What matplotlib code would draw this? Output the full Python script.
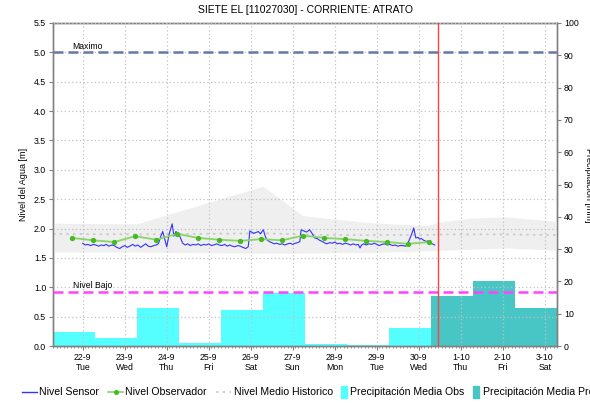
import matplotlib
matplotlib.use("Agg")
import matplotlib.pyplot as plt
from matplotlib.patches import Rectangle
from matplotlib.lines import Line2D
import numpy as np

plt.rcParams['font.family'] = ['Liberation Sans', 'DejaVu Sans']

# ---------------- data (x in days from 22-9 00:00) ----------------
tick_days = list(range(12))
tick_labels = ["22-9\nTue", "23-9\nWed", "24-9\nThu", "25-9\nFri", "26-9\nSat", "27-9\nSun",
               "28-9\nMon", "29-9\nTue", "30-9\nWed", "1-10\nThu", "2-10\nFri", "3-10\nSat"]

sensor_pts = [
    (0.00, 1.75), (0.06, 1.72), (0.12, 1.73), (0.19, 1.71), (0.25, 1.73), (0.31, 1.72),
    (0.38, 1.70), (0.44, 1.72), (0.50, 1.71), (0.56, 1.73), (0.62, 1.70), (0.69, 1.72),
    (0.75, 1.71), (0.81, 1.68), (0.88, 1.66), (0.94, 1.69), (1.00, 1.71), (1.06, 1.68),
    (1.12, 1.70), (1.19, 1.73), (1.25, 1.70), (1.31, 1.72), (1.38, 1.68), (1.44, 1.71),
    (1.50, 1.74), (1.56, 1.70), (1.62, 1.69), (1.69, 1.71), (1.75, 1.72), (1.80, 1.74),
    (1.86, 1.87), (1.905, 1.95), (1.96, 1.80), (2.00, 1.69), (2.06, 1.91), (2.13, 2.08),
    (2.17, 1.87), (2.22, 1.95), (2.31, 1.87), (2.38, 1.75), (2.44, 1.72), (2.50, 1.74),
    (2.56, 1.71), (2.62, 1.73), (2.69, 1.72), (2.75, 1.74), (2.81, 1.71), (2.88, 1.73),
    (2.94, 1.72), (3.00, 1.74), (3.06, 1.71), (3.12, 1.72), (3.19, 1.74), (3.25, 1.72),
    (3.31, 1.71), (3.38, 1.73), (3.44, 1.70), (3.50, 1.72), (3.56, 1.70), (3.62, 1.69),
    (3.69, 1.71), (3.75, 1.70), (3.81, 1.68), (3.88, 1.66), (3.94, 1.69), (3.98, 1.96),
    (4.06, 1.92), (4.12, 1.93), (4.18, 1.95), (4.23, 1.91), (4.30, 1.98), (4.34, 1.88),
    (4.38, 1.81), (4.44, 1.78), (4.50, 1.76), (4.56, 1.74), (4.62, 1.75), (4.69, 1.73),
    (4.75, 1.74), (4.81, 1.72), (4.88, 1.74), (4.94, 1.75), (5.00, 1.73), (5.06, 1.75),
    (5.12, 1.76), (5.17, 1.78), (5.20, 1.98), (5.26, 1.96), (5.33, 1.94), (5.40, 1.98),
    (5.45, 1.93), (5.48, 1.89), (5.52, 1.84), (5.58, 1.83), (5.64, 1.80), (5.70, 1.78),
    (5.75, 1.76), (5.81, 1.74), (5.88, 1.76), (5.94, 1.75), (6.00, 1.77), (6.06, 1.74),
    (6.12, 1.75), (6.19, 1.73), (6.25, 1.75), (6.31, 1.74), (6.38, 1.72), (6.44, 1.74),
    (6.50, 1.72), (6.56, 1.73), (6.60, 1.67), (6.64, 1.72), (6.69, 1.74), (6.75, 1.72),
    (6.81, 1.74), (6.88, 1.73), (6.94, 1.75), (7.00, 1.73), (7.06, 1.71), (7.12, 1.73),
    (7.19, 1.74), (7.25, 1.72), (7.31, 1.73), (7.38, 1.71), (7.44, 1.72), (7.50, 1.70),
    (7.56, 1.71), (7.62, 1.71), (7.69, 1.70), (7.74, 1.75), (7.83, 1.90), (7.88, 2.01),
    (7.93, 1.84), (7.98, 1.85), (8.02, 1.82), (8.06, 1.83), (8.12, 1.80), (8.18, 1.78),
    (8.22, 1.79), (8.26, 1.75), (8.32, 1.74), (8.38, 1.72),
]
sensor_t = [p[0] for p in sensor_pts]
sensor_v = [p[1] for p in sensor_pts]

obs_t = [-0.25 + 0.5 * k for k in range(18)]
obs_v = [1.84, 1.80, 1.77, 1.87, 1.81, 1.91, 1.84, 1.81, 1.79, 1.82, 1.80, 1.88,
         1.84, 1.82, 1.79, 1.77, 1.74, 1.77]

band_t = [-0.708, 1.29, 4.29, 5.24, 5.88, 6.83, 8.19, 8.57, 9.3, 10.1, 11.29]
band_hi = [2.09, 2.08, 2.72, 2.22, 2.17, 2.10, 2.05, 2.12, 2.18, 2.20, 2.12]
band_lo = [1.60, 1.60, 1.58, 1.58, 1.59, 1.59, 1.62, 1.63, 1.65, 1.67, 1.63]
mean_hist = [1.91, 1.90, 1.92, 1.90, 1.89, 1.89, 1.89, 1.90, 1.90, 1.90, 1.89]

obs_bar_start = [-0.708, 0.292, 1.292, 2.292, 3.292, 4.292, 5.292, 6.292, 7.292]
obs_bar_mm = [4.4, 2.6, 11.9, 0.8, 11.1, 16.3, 0.7, 0.3, 5.7]
pro_bar_start = [8.292, 9.292, 10.292]
pro_bar_mm = [15.6, 20.2, 11.7]

nivel_maximo = 5.0
nivel_bajo = 0.92
now_day = 8.45

legend_labels = ['Nivel Sensor', 'Nivel Observador', 'Nivel Medio Historico',
                 'Precipitación Media Obs', 'Precipitación Media Pro']

# ---------------- figure ----------------
W, H = 590, 405
fig = plt.figure(figsize=(5.9, 4.05), dpi=100)
ax = fig.add_axes([53/W, 1-346/H, (557-53)/W, (346-23)/H])
ax2 = ax.twinx()
ax.set_zorder(ax2.get_zorder() + 1)
ax.patch.set_visible(False)

col_sensor = '#3333FF'
col_obsline = '#88D466'
col_obsmark = '#44BB22'
col_hist = '#C8C8C8'
col_obs = '#55FFFF'
col_pro = '#48C6C6'

ax2.bar(obs_bar_start, obs_bar_mm, width=1.0, align='edge', color=col_obs, linewidth=0)
ax2.bar(pro_bar_start, pro_bar_mm, width=1.0, align='edge', color=col_pro, linewidth=0)
ax2.set_ylim(0, 100)
ax2.set_yticks(range(0, 101, 10))

ax.fill_between(band_t, band_lo, band_hi, color='#EFEFEF', linewidth=0, zorder=1)
ax.plot(band_t, mean_hist, color=col_hist, lw=1.2, ls=(0, (1.5, 2.5)), zorder=2)

ax.plot(sensor_t, sensor_v, color=col_sensor, lw=0.8, zorder=4)
ax.plot(obs_t, obs_v, color=col_obsline, lw=1.3, zorder=5, marker='o', ms=2.8,
        mfc=col_obsmark, mec=col_obsmark)

ax.axhline(nivel_maximo, color='#6677A8', lw=1.8, ls=(0, (4, 2)), zorder=6)
ax.axhline(nivel_bajo, color='#FF44FF', lw=1.8, ls=(0, (4, 2)), zorder=6)
ax.axvline(now_day, color='#FF4040', lw=1.0, zorder=7)
ax.text(-0.24, nivel_maximo + 0.03, 'Maximo', fontsize=6.2, va='bottom', ha='left')
ax.text(-0.22, nivel_bajo + 0.03, 'Nivel Bajo', fontsize=6.2, va='bottom', ha='left')

ax.set_xlim(-0.708, 11.292)
ax.set_ylim(0, 5.5)
ax.set_yticks(np.arange(0, 5.51, 0.5))
ax.set_yticklabels([f'{v:.1f}' for v in np.arange(0, 5.51, 0.5)])
ax.set_xticks(tick_days)
ax.set_xticklabels(tick_labels, linespacing=1.15)
ax.set_xticks(np.arange(-0.708, 11.3, 1/12), minor=True)
ax.grid(True, which='major', color='#C0C0C0', lw=0.9, ls=(0, (1, 2)))
ax.set_axisbelow(False)

for a in (ax, ax2):
    for s in a.spines.values():
        s.set_color('#808080')
        s.set_linewidth(1.0)
ax.tick_params(axis='both', which='major', labelsize=6.3, length=3, width=0.8, color='#808080', pad=2)
ax.tick_params(axis='x', which='minor', length=1.5, width=0.6, color='#808080')
ax2.tick_params(axis='y', labelsize=6.3, length=3, width=0.8, color='#808080', pad=2)

ax.set_ylabel('Nivel del Agua [m]', fontsize=6.5, labelpad=4)
fig.text(588/W, 1-185/H, 'Precipitación [mm]', rotation=270, fontsize=6.5,
         ha='center', va='center')
fig.text(305/W, 1-10/H, 'SIETE EL [11027030] - CORRIENTE: ATRATO', fontsize=7.5,
         ha='center', va='center')

# ---------------- legend (drawn in figure pixel positions) ----------------
ly = 1 - 392/H
def fx(px):
    return px / W

fig.add_artist(Line2D([fx(22), fx(37)], [ly, ly], color=col_sensor, lw=1.0,
                      transform=fig.transFigure))
fig.add_artist(Line2D([fx(108), fx(123)], [ly, ly], color=col_obsline, lw=1.2,
                      transform=fig.transFigure))
fig.add_artist(Line2D([fx(115.5)], [ly], color=col_obsmark, marker='o', ms=2.6, lw=0,
                      transform=fig.transFigure))
fig.add_artist(Line2D([fx(216), fx(231)], [ly, ly], color=col_hist, lw=1.2,
                      ls=(0, (1.5, 2.5)), transform=fig.transFigure))
fig.add_artist(Rectangle((fx(341), 1-398/H), 6/W, 12/H, color=col_obs,
                         transform=fig.transFigure))
fig.add_artist(Rectangle((fx(473), 1-398/H), 6/W, 12/H, color=col_pro,
                         transform=fig.transFigure))
for xpx, lab in zip([39, 125, 234, 350, 483], legend_labels):
    fig.text(fx(xpx), ly, lab, fontsize=7.6, ha='left', va='center')

fig.savefig('out.png', dpi=100)
